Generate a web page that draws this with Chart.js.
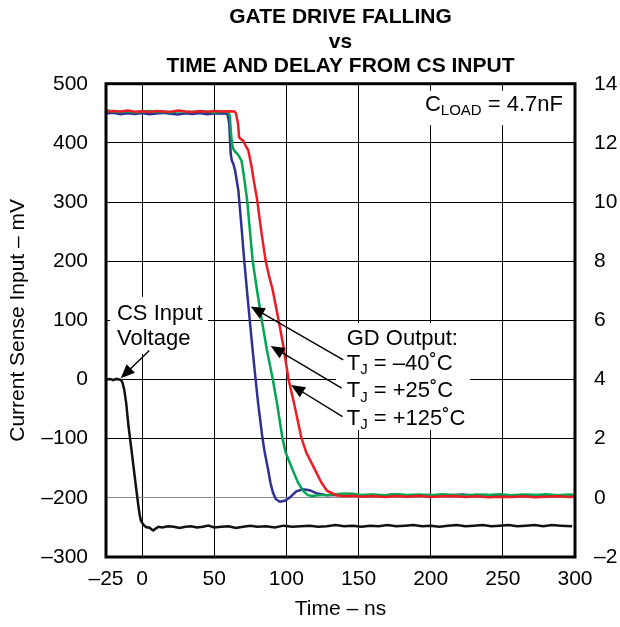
<!DOCTYPE html>
<html lang="en">
<head>
<meta charset="UTF-8">
<title>Gate Drive Falling vs Time</title>
<script src="https://cdn.jsdelivr.net/npm/chart.js"></script>
<style>
    body {
        margin: 0;
        background: #ffffff;
    }

    .chart-box {
        position: relative;
        width: 620px;
        height: 627px;
    }
</style>
</head>
<body>
<div class="chart-box">
    <canvas id="gdChart"></canvas>
</div>

<script>
    // time axis ticks (ns)
    const xTicks = [-25, 0, 50, 100, 150, 200, 250, 300];

    // CS input voltage, [ns, mV] on the left axis
    const csInput = [
        [-24.5, 0], [-22, 1], [-20, -1], [-18, 1], [-16, 0], [-14.6, -1], [-13.6, -5], [-12.4, -17],
        [-11, -40], [-9.4, -79], [-7.7, -112], [-6, -146], [-4.3, -180], [-2.6, -213], [-1.7, -228],
        [-0.9, -238], [0.5, -244], [2, -248], [3.5, -250], [5, -250], [6.5, -253], [7.8, -255],
        [9.5, -252], [11.3, -249], [14, -250], [18, -248], [22, -249], [26, -251], [30, -249],
        [34, -248], [38, -250], [42, -249], [46, -247], [50, -250], [55, -249], [60, -248], [65, -251],
        [70, -249], [75, -247], [80, -249], [86, -248], [92, -250], [98, -247], [104, -249], [110, -248],
        [116, -247], [122, -249], [128, -248], [134, -246], [140, -248], [146, -247], [152, -249],
        [158, -247], [164, -248], [170, -246], [176, -248], [182, -247], [188, -246], [194, -248],
        [200, -247], [206, -249], [212, -247], [218, -246], [224, -248], [230, -247], [236, -246],
        [242, -248], [248, -247], [254, -246], [260, -248], [266, -247], [272, -246], [278, -248],
        [284, -246], [290, -247], [298, -248]
    ];

    // gate drive output, [ns, V] on the right axis
    const gdMinus40 = [
        [-25, 12.99], [-20, 13.02], [-15, 12.97], [-10, 13.0], [-5, 12.98], [0, 13.01], [5, 12.97],
        [10, 12.99], [15, 13.02], [20, 12.98], [25, 12.96], [30, 13.0], [35, 12.98], [40, 13.01],
        [45, 12.97], [50, 12.99], [55, 13.0], [58.5, 12.98], [59.3, 12.95], [60.4, 12.65], [61.4, 11.64],
        [62.2, 11.4], [63.2, 11.3], [64.4, 11.08], [66.7, 10.4], [67.3, 10.06], [69, 9.1], [70.8, 8.02],
        [72.7, 7.0], [74.6, 6.02], [76.6, 5.0], [78.7, 3.99], [80.4, 3.2], [83.4, 2.03], [85, 1.53],
        [87.3, 0.97], [88.9, 0.52], [90.7, 0.18], [92.6, -0.04], [95.4, -0.13], [98.8, -0.1],
        [102.3, 0.01], [106.9, 0.22], [111.5, 0.29], [116.1, 0.26], [120.7, 0.16], [127.6, 0.09],
        [135, 0.1], [142, 0.12], [150, 0.08], [158, 0.1], [166, 0.07], [174, 0.11], [182, 0.09],
        [190, 0.08], [198, 0.1], [206, 0.07], [214, 0.09], [222, 0.11], [230, 0.08], [238, 0.1],
        [246, 0.07], [254, 0.09], [262, 0.08], [270, 0.1], [278, 0.07], [286, 0.09], [294, 0.08], [300, 0.06]
    ];

    const gdPlus25 = [
        [-25, 13.1], [-20, 13.06], [-15, 13.04], [-10, 13.07], [-5, 13.03], [0, 13.05], [5, 13.08],
        [10, 13.04], [15, 13.06], [20, 13.03], [25, 13.07], [30, 13.05], [35, 13.04], [40, 13.08],
        [45, 13.05], [50, 13.03], [55, 13.06], [60, 13.04], [60.8, 12.9], [61.5, 12.4], [62.4, 11.95],
        [63.2, 11.8], [64.5, 11.7], [66.5, 11.6], [68.9, 11.4], [70.5, 10.9], [72.8, 10.06], [74.8, 9.0],
        [76.6, 8.02], [79.7, 7.0], [82.9, 6.03], [86.5, 5.0], [90.6, 4.0], [93.5, 3.2], [97.2, 2.03],
        [99.5, 1.53], [104.1, 0.97], [108, 0.52], [111.5, 0.24], [114.9, 0.09], [118, 0.06], [122, 0.09],
        [128, 0.1], [134, 0.12], [140, 0.15], [146, 0.14], [152, 0.1], [160, 0.11], [168, 0.09],
        [176, 0.12], [184, 0.1], [192, 0.11], [200, 0.09], [208, 0.12], [216, 0.1], [224, 0.08],
        [232, 0.11], [240, 0.1], [248, 0.12], [256, 0.09], [264, 0.11], [272, 0.1], [280, 0.12],
        [288, 0.09], [296, 0.11], [300, 0.1]
    ];

    const gdPlus125 = [
        [-25, 13.05], [-20, 13.08], [-15, 13.06], [-10, 13.09], [-5, 13.05], [0, 13.07], [5, 13.04],
        [10, 13.08], [15, 13.06], [20, 13.05], [25, 13.09], [30, 13.06], [35, 13.04], [40, 13.07],
        [45, 13.05], [50, 13.08], [55, 13.06], [60, 13.07], [64, 13.06], [65, 13.0], [66.5, 12.65],
        [67.2, 12.2], [68.5, 12.12], [70, 12.08], [71.8, 11.9], [73.6, 11.75], [75.9, 11.19], [77.5, 10.7],
        [79.8, 10.06], [82.5, 9.05], [85.6, 8.02], [88, 7.5], [90.5, 7.03], [94.5, 6.03], [98, 5.1],
        [101.5, 4.0], [105.3, 3.2], [110.4, 2.03], [113.8, 1.53], [119.6, 0.97], [124.2, 0.52],
        [128.1, 0.24], [134.6, 0.09], [140, 0.05], [146, 0.07], [152, 0.04], [160, 0.06], [168, 0.03],
        [176, 0.06], [184, 0.04], [192, 0.07], [200, 0.03], [208, 0.05], [216, 0.06], [224, 0.03],
        [232, 0.05], [240, 0.02], [248, 0.04], [256, 0.03], [264, 0.05], [272, 0.02], [280, 0.04],
        [288, 0.05], [296, 0.03], [299, 0.04]
    ];

    const FONT = '"Liberation Sans", Arial, Helvetica, sans-serif';
    const dash = v => String(v).replace('-', '\u2013');
    const toPoints = rows => rows.map(r => ({ x: r[0], y: r[1] }));

    // white patches behind the labels, [t0, t1, mV0, mV1]
    const labelBoxes = [
        [-22.2, 45.7, 139.7, 43.3],
        [134.4, 227.3, 95.7, -85.6],
        [191.2, 296.6, 488, 430]
    ];

    // arrows, [tail t, tail mV, tip t, tip mV]
    const arrows = [
        [5.0, 48.9, -14.8, 2.2],
        [139.4, 33.1, 75.3, 123.3],
        [138.3, -14.7, 89.1, 56.8],
        [138.9, -62.7, 103.2, -9.1]
    ];

    // text runs: [t, mV baseline, parts]; a part is [text, isSubscript]
    const labels = [
        [-17.4, 100, [['CS Input']]],
        [-17.4, 58, [['Voltage']]],
        [141.8, 58.5, [['GD Output:']]],
        [141.8, 16.2, [['T'], ['J', true], [' = \u201340\u02DAC']]],
        [141.8, -29.9, [['T'], ['J', true], [' = +25\u02DAC']]],
        [141.8, -76.8, [['T'], ['J', true], [' = +125\u02DAC']]],
        [196, 454.3, [['C'], ['LOAD', true], [' = 4.7nF']]]
    ];

    function drawRich(ctx, px, py, parts) {
        let cx = px;
        parts.forEach(([text, sub]) => {
            ctx.font = (sub ? '15px ' : '22px ') + FONT;
            ctx.fillText(text, cx, sub ? py + 4.5 : py);
            cx += ctx.measureText(text).width;
        });
    }

    function drawArrow(ctx, fx, fy, tx, ty) {
        const ang = Math.atan2(ty - fy, tx - fx);
        const c = Math.cos(ang), s = Math.sin(ang);
        const len = 14, half = 6;
        ctx.beginPath();
        ctx.moveTo(fx, fy);
        ctx.lineTo(tx - c * len * 0.8, ty - s * len * 0.8);
        ctx.stroke();
        ctx.beginPath();
        ctx.moveTo(tx, ty);
        ctx.lineTo(tx - c * len + s * half, ty - s * len - c * half);
        ctx.lineTo(tx - c * len - s * half, ty - s * len + c * half);
        ctx.closePath();
        ctx.fill();
    }

    const annotations = {
        id: 'annotations',
        beforeDatasetsDraw(chart) {
            const { ctx, scales: { x, y } } = chart;
            ctx.save();
            ctx.fillStyle = '#ffffff';
            labelBoxes.forEach(b => {
                const x0 = x.getPixelForValue(b[0]), x1 = x.getPixelForValue(b[1]);
                const y0 = y.getPixelForValue(b[2]), y1 = y.getPixelForValue(b[3]);
                ctx.fillRect(x0, y0, x1 - x0, y1 - y0);
            });
            ctx.restore();
        },
        afterDatasetsDraw(chart) {
            const { ctx, chartArea: a, scales: { x, y } } = chart;
            ctx.save();
            // plot frame
            ctx.strokeStyle = '#000';
            ctx.lineWidth = 3;
            ctx.strokeRect(a.left, a.top, a.right - a.left, a.bottom - a.top);

            ctx.fillStyle = '#000';
            ctx.lineWidth = 1.4;
            arrows.forEach(r => drawArrow(ctx,
                x.getPixelForValue(r[0]), y.getPixelForValue(r[1]),
                x.getPixelForValue(r[2]), y.getPixelForValue(r[3])));

            ctx.textBaseline = 'alphabetic';
            ctx.textAlign = 'left';
            labels.forEach(l => drawRich(ctx, x.getPixelForValue(l[0]), y.getPixelForValue(l[1]), l[2]));
            ctx.restore();
        }
    };

    const line = (data, color, axis) => ({
        data: toPoints(data),
        borderColor: color,
        borderWidth: 2.5,
        pointRadius: 0,
        tension: 0,
        yAxisID: axis
    });

    Chart.defaults.font.family = FONT;
    Chart.defaults.color = '#000';

    new Chart(document.getElementById('gdChart'), {
        type: 'line',
        data: {
            // first dataset is drawn on top
            datasets: [
                line(gdPlus125, '#ed1c24', 'y1'),
                line(gdPlus25, '#00a651', 'y1'),
                line(gdMinus40, '#2e3192', 'y1'),
                line(csInput, '#111111', 'y')
            ]
        },
        options: {
            responsive: true,
            maintainAspectRatio: false,
            animation: false,
            devicePixelRatio: 1,
            layout: { padding: 0 },
            plugins: {
                legend: { display: false },
                tooltip: { enabled: false },
                title: {
                    display: true,
                    fullSize: false,
                    text: ['GATE DRIVE FALLING', 'vs', 'TIME AND DELAY FROM CS INPUT'],
                    color: '#000',
                    font: { size: 21, weight: 'bold', lineHeight: 1.17 },
                    padding: { top: 5, bottom: 5 }
                }
            },
            scales: {
                x: {
                    type: 'linear',
                    min: -25,
                    max: 300,
                    afterBuildTicks: s => { s.ticks = xTicks.map(v => ({ value: v })); },
                    afterFit: s => { s.height = 70; },
                    ticks: { font: { size: 21 }, padding: 10, maxRotation: 0, callback: v => dash(v) },
                    grid: { color: '#000', lineWidth: 1, drawTicks: false },
                    border: { display: false },
                    title: { display: true, text: 'Time \u2013 ns', font: { size: 21 }, padding: { top: 0, bottom: 5 } }
                },
                y: {
                    position: 'left',
                    min: -300,
                    max: 500,
                    afterFit: s => { s.width = 106; },
                    ticks: { stepSize: 100, font: { size: 21 }, padding: 18, callback: v => dash(v) },
                    grid: {
                        color: c => (c.tick && c.tick.value === -200 ? '#8c8c8c' : '#000'),
                        lineWidth: 1,
                        drawTicks: false
                    },
                    border: { display: false },
                    title: { display: true, text: 'Current Sense Input \u2013 mV', font: { size: 21 }, padding: { top: 6, bottom: 0 } }
                },
                y1: {
                    position: 'right',
                    min: -2,
                    max: 14,
                    afterFit: s => { s.width = 45; },
                    ticks: { stepSize: 2, font: { size: 21 }, padding: 19, callback: v => dash(v) },
                    grid: { drawOnChartArea: false, drawTicks: false },
                    border: { display: false }
                }
            }
        },
        plugins: [annotations]
    });
</script>
</body>
</html>
